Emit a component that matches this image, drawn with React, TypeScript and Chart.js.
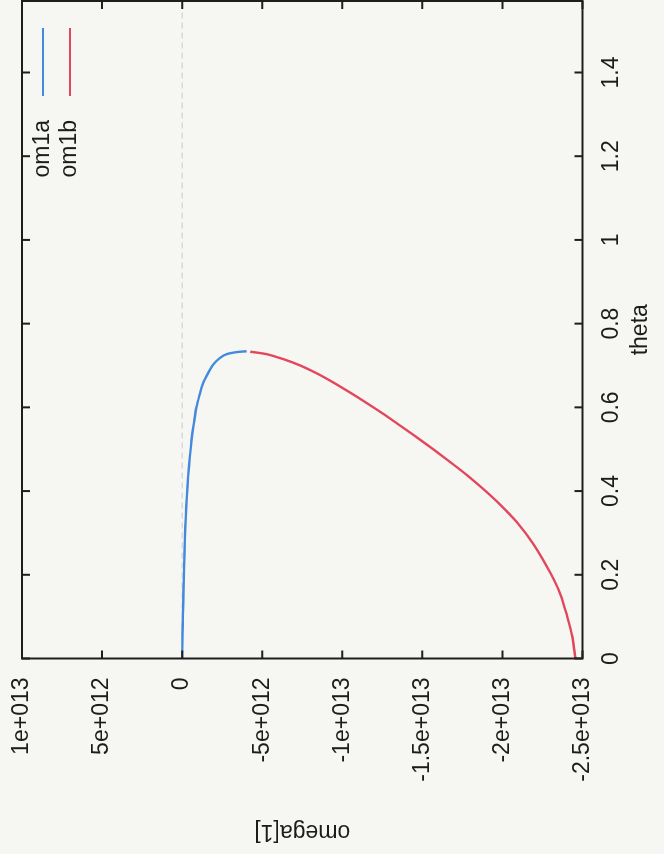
import React, { useEffect, useRef } from 'react';
import { Chart, registerables } from 'chart.js';

Chart.register(...registerables);

// ---- data (theta on the horizontal axis of the un-rotated plot, omega[1] on the vertical) ----
const om1aTheta = [0, 0.061, 0.101, 0.165, 0.22, 0.284, 0.34, 0.387, 0.435, 0.483, 0.522, 0.562, 0.602, 0.632, 0.658, 0.682, 0.702, 0.718, 0.727, 0.732, 0.734];
const om1aOmega = [0, -2.5e10, -4.4e10, -8.8e10, -1.25e11, -1.69e11, -2.31e11, -2.94e11, -3.75e11, -4.81e11, -5.88e11, -7.31e11, -9.0e11, -1.106e12, -1.3125e12, -1.625e12, -1.9375e12, -2.356e12, -2.775e12, -3.4e12, -4.025e12];

const om1bTheta = [0.733, 0.727, 0.715, 0.7, 0.681, 0.659, 0.635, 0.61, 0.584, 0.556, 0.528, 0.499, 0.469, 0.438, 0.404, 0.367, 0.325, 0.272, 0.204, 0.153, 0.101, 0.053, 0];
const om1bOmega = [-4.25e12, -5.29e12, -6.33e12, -7.38e12, -8.42e12, -9.46e12, -1.05e13, -1.154e13, -1.258e13, -1.3625e13, -1.467e13, -1.571e13, -1.675e13, -1.779e13, -1.883e13, -1.9875e13, -2.092e13, -2.196e13, -2.3e13, -2.3625e13, -2.404e13, -2.436e13, -2.456e13];

const seriesLabels = ['om1a', 'om1b'];
const seriesColors = ['#438add', '#e2475b'];

const thetaTicks = [0, 0.2, 0.4, 0.6, 0.8, 1, 1.2, 1.4];
const thetaTickLabels = ['0', '0.2', '0.4', '0.6', '0.8', '1', '1.2', '1.4'];
const omegaTicks = [-2.5e13, -2e13, -1.5e13, -1e13, -5e12, 0, 5e12, 1e13];
const omegaTickLabels = ['-2.5e+013', '-2e+013', '-1.5e+013', '-1e+013', '-5e+012', '0', '5e+012', '1e+013'];

const thetaMin = 0;
const thetaMax = Math.PI / 2;
const omegaMin = -2.5e13;
const omegaMax = 1e13;

const FONT = { family: 'Arial, "Liberation Sans", sans-serif', size: 23 };
const TEXT = '#1c1c1c';

const framePlugin = {
  id: 'frame',
  beforeDatasetsDraw(chart: any) {
    const { ctx, chartArea: a, scales } = chart;
    const y0 = scales.y.getPixelForValue(0);
    ctx.save();
    ctx.strokeStyle = '#c3cad1';
    ctx.lineWidth = 1;
    ctx.setLineDash([6, 4]);
    ctx.beginPath();
    ctx.moveTo(a.left, y0);
    ctx.lineTo(a.right, y0);
    ctx.stroke();
    ctx.restore();
  },
  afterDatasetsDraw(chart: any) {
    const { ctx, chartArea: a, scales } = chart;
    const tl = 8;
    ctx.save();
    ctx.strokeStyle = '#1e1e1e';
    ctx.lineWidth = 2;
    ctx.strokeRect(a.left, a.top, a.right - a.left, a.bottom - a.top);
    ctx.beginPath();
    thetaTicks.forEach((v) => {
      const x = scales.x.getPixelForValue(v);
      ctx.moveTo(x, a.bottom);
      ctx.lineTo(x, a.bottom - tl);
      ctx.moveTo(x, a.top);
      ctx.lineTo(x, a.top + tl);
    });
    omegaTicks.forEach((v) => {
      const y = scales.y.getPixelForValue(v);
      ctx.moveTo(a.left, y);
      ctx.lineTo(a.left + tl, y);
      ctx.moveTo(a.right, y);
      ctx.lineTo(a.right - tl, y);
    });
    ctx.stroke();

    // gnuplot-style key: text right-aligned, then line sample
    ctx.font = `${FONT.size}px ${FONT.family}`;
    ctx.textAlign = 'right';
    ctx.textBaseline = 'middle';
    chart.data.datasets.forEach((ds: any, i: number) => {
      const yy = a.top + 21 + i * 27;
      ctx.fillStyle = TEXT;
      ctx.fillText(ds.label, 734, yy);
      ctx.strokeStyle = ds.borderColor;
      ctx.lineWidth = 2.2;
      ctx.beginPath();
      ctx.moveTo(758, yy);
      ctx.lineTo(826, yy);
      ctx.stroke();
    });
    ctx.restore();
  },
};

function ChartCanvas() {
  const ref = useRef<HTMLCanvasElement | null>(null);
  useEffect(() => {
    if (!ref.current) return;
    const chart = new Chart(ref.current, {
      type: 'scatter',
      data: {
        datasets: [
          {
            label: seriesLabels[0],
            data: om1aTheta.map((t, i) => ({ x: t, y: om1aOmega[i] })),
            showLine: true,
            borderColor: seriesColors[0],
            backgroundColor: seriesColors[0],
            borderWidth: 2.4,
            pointRadius: 0,
            tension: 0.3,
          },
          {
            label: seriesLabels[1],
            data: om1bTheta.map((t, i) => ({ x: t, y: om1bOmega[i] })),
            showLine: true,
            borderColor: seriesColors[1],
            backgroundColor: seriesColors[1],
            borderWidth: 2.4,
            pointRadius: 0,
            tension: 0.3,
          },
        ],
      },
      options: {
        responsive: false,
        animation: false,
        devicePixelRatio: 1,
        layout: { padding: { left: 0, right: 1, top: 22, bottom: 0 } },
        plugins: { legend: { display: false }, tooltip: { enabled: false } },
        scales: {
          x: {
            type: 'linear',
            min: thetaMin,
            max: thetaMax,
            grid: { display: false, drawTicks: false },
            border: { display: false },
            ticks: {
              font: FONT,
              color: TEXT,
              padding: 15,
              maxRotation: 0,
              minRotation: 0,
              autoSkip: false,
              includeBounds: false,
              callback: (v: any) => {
                const i = thetaTicks.findIndex((t) => Math.abs(t - v) < 1e-9);
                return i >= 0 ? thetaTickLabels[i] : '';
              },
            },
            afterBuildTicks: (s: any) => {
              s.ticks = thetaTicks.map((v) => ({ value: v }));
            },
            afterFit: (s: any) => {
              s.height = 81.5;
              s.paddingLeft = 0;
              s.paddingRight = 0;
              s.paddingTop = 0;
              s.paddingBottom = 0;
            },
            title: { display: true, text: 'theta', font: FONT, color: TEXT, padding: { top: 0, bottom: 10 } },
          },
          y: {
            type: 'linear',
            min: omegaMin,
            max: omegaMax,
            grid: { display: false, drawTicks: false },
            border: { display: false },
            ticks: {
              font: FONT,
              color: TEXT,
              padding: 19,
              autoSkip: false,
              includeBounds: false,
              callback: (v: any) => {
                const i = omegaTicks.findIndex((t) => Math.abs(t - v) < 1);
                return i >= 0 ? omegaTickLabels[i] : '';
              },
            },
            afterBuildTicks: (s: any) => {
              s.ticks = omegaTicks.map((v) => ({ value: v }));
            },
            afterFit: (s: any) => {
              s.width = 195.5;
              s.paddingLeft = 0;
              s.paddingRight = 0;
              s.paddingTop = 0;
              s.paddingBottom = 0;
            },
            title: { display: true, text: 'omega[1]', font: FONT, color: TEXT, padding: { top: 9, bottom: 0 } },
          },
        },
      },
      plugins: [framePlugin],
    } as any);
    return () => chart.destroy();
  }, []);
  return <canvas ref={ref} width={854} height={664} style={{ width: 854, height: 664, display: 'block' }} />;
}

export default function App() {
  return (
    <div style={{ position: 'fixed', left: 0, top: 0, width: 664, height: 854, overflow: 'hidden', background: '#f6f6f3' }}>
      <div
        style={{
          position: 'absolute',
          left: 0,
          top: 0,
          width: 854,
          height: 664,
          transformOrigin: '0 0',
          transform: 'translate(0px, 854px) rotate(-90deg)',
        }}
      >
        <ChartCanvas />
      </div>
    </div>
  );
}
